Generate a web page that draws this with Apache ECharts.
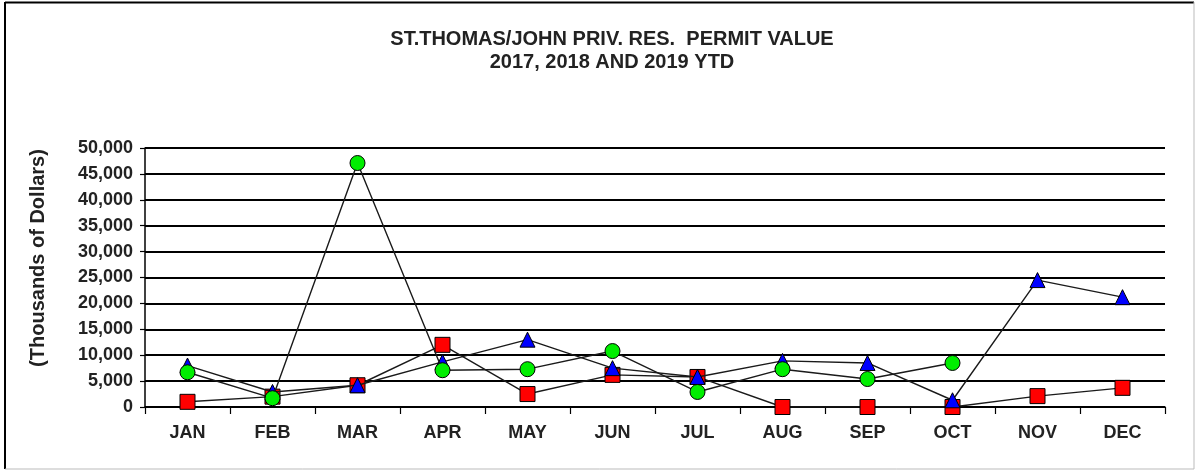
<!DOCTYPE html>
<html>
<head>
<meta charset="utf-8">
<script src="https://cdn.jsdelivr.net/npm/echarts@6/dist/echarts.min.js"></script>
<style>
html,body{margin:0;padding:0;background:#fff;}
#chart{width:1196px;height:471px;}
</style>
</head>
<body>
<div id="chart"></div>
<script>
const categories = ['JAN','FEB','MAR','APR','MAY','JUN','JUL','AUG','SEP','OCT','NOV','DEC'];
const yTickLabels = ['0','5,000','10,000','15,000','20,000','25,000','30,000','35,000','40,000','45,000','50,000'];
const series2017 = [1000, 2000, 4200, 12000, 2500, 6200, 5800, 0, 0, 0, 2100, 3700];
const series2018 = [8000, 2900, 4200, 8700, 13000, 7500, 5800, 8900, 8500, 1300, 24500, 21200];
const series2019 = [6700, 1700, 47100, 7100, 7300, 10800, 2900, 7300, 5400, 8500];
const titleText = 'ST.THOMAS/JOHN PRIV. RES.  PERMIT VALUE\n2017, 2018 AND 2019 YTD';
const yAxisName = '(Thousands of Dollars)';

const FONT = '"Liberation Sans", Arial, sans-serif';
const chart = echarts.init(document.getElementById('chart'), null, {renderer: 'canvas'});

function mkSeries(name, data, symbol, color, size, z) {
  return {
    name: name,
    type: 'line',
    data: data,
    symbol: symbol,
    symbolSize: size,
    z: z,
    lineStyle: {color: '#1a1a1a', width: 1.4},
    itemStyle: {color: color, borderColor: '#000', borderWidth: 1},
    emphasis: {disabled: true},
    animation: false
  };
}

chart.setOption({
  backgroundColor: '#fff',
  animation: false,
  title: {
    text: titleText,
    left: 607,
    top: 23,
    textAlign: 'center',
    textStyle: {fontFamily: FONT, fontSize: 20, fontWeight: 'bold', color: '#222', lineHeight: 23}
  },
  graphic: [
    {type: 'line', shape: {x1: 5, y1: 2, x2: 5, y2: 469}, style: {stroke: '#000', lineWidth: 2}},
    {type: 'line', shape: {x1: 5, y1: 2.5, x2: 1194, y2: 2.5}, style: {stroke: '#000', lineWidth: 2}},
    {type: 'line', shape: {x1: 1194, y1: 2, x2: 1194, y2: 469}, style: {stroke: '#bbb', lineWidth: 1}},
    {type: 'line', shape: {x1: 5, y1: 469, x2: 1194, y2: 469}, style: {stroke: '#bbb', lineWidth: 1}},
    {
      type: 'text', x: 38, y: 258, rotation: Math.PI / 2,
      style: {text: yAxisName, fontFamily: FONT, fontSize: 20, fontWeight: 'bold', fill: '#222', align: 'center', verticalAlign: 'middle'}
    }
  ],
  grid: {left: 145, right: 31, top: 148, bottom: 64, containLabel: false},
  xAxis: {
    type: 'category',
    data: categories,
    boundaryGap: true,
    axisLine: {lineStyle: {color: '#000', width: 1.5}},
    axisTick: {show: true, inside: false, length: 7, alignWithLabel: false, lineStyle: {color: '#000', width: 1.2}},
    axisLabel: {fontFamily: FONT, fontSize: 18, fontWeight: 'bold', color: '#222', margin: 17},
    splitLine: {show: false}
  },
  yAxis: {
    type: 'value',
    min: 0,
    max: 50000,
    interval: 5000,
    axisLine: {show: true, lineStyle: {color: '#000', width: 1.5}},
    axisTick: {show: true, length: 5, lineStyle: {color: '#000', width: 1.2}},
    axisLabel: {
      fontFamily: FONT, fontSize: 18, fontWeight: 'bold', color: '#222', margin: 12,
      formatter: function (v) { return yTickLabels[Math.round(v / 5000)]; }
    },
    splitLine: {show: true, lineStyle: {color: '#000', width: 1.8}}
  },
  series: [
    mkSeries('2017', series2017, 'rect', '#ff0000', 15, 2),
    mkSeries('2018', series2018, 'triangle', '#0000ff', 15, 3),
    mkSeries('2019', series2019, 'circle', '#00ee00', 15, 4)
  ]
});
</script>
</body>
</html>
